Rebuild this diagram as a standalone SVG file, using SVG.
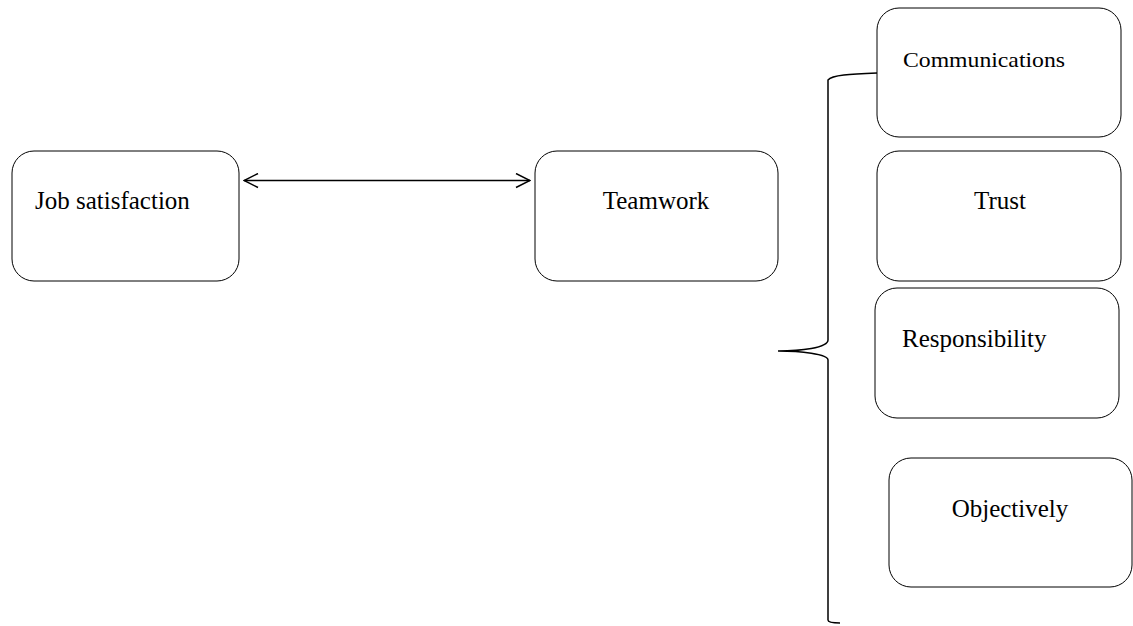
<svg xmlns="http://www.w3.org/2000/svg" width="1133" height="626" viewBox="0 0 1133 626">
<style>
.box{fill:#fff;stroke:#000;stroke-width:1}
.t{font-family:"Liberation Serif","Times New Roman",serif;font-size:25px;fill:#000}
.c{fill:none;stroke:#000;stroke-width:1.5}
</style>
<defs>
<marker id="ah" viewBox="0 0 16 16" refX="15" refY="8" markerWidth="16" markerHeight="16" markerUnits="userSpaceOnUse" orient="auto-start-reverse">
<path d="M1,1 L15,8 L1,15" fill="none" stroke="#000" stroke-width="1.5"/>
</marker>
</defs>
<rect width="1133" height="626" fill="#fff"/>
<g id="connectors">
<line class="c" x1="244" y1="180.5" x2="530" y2="180.5" marker-start="url(#ah)" marker-end="url(#ah)"/>
<path class="c" d="M877,73 C850,74 832,75 828,80 L828,340 C828,348 800,351 778,351 C800,351 828,354 828,360 L828,620 C828,622 834,623 840,623"/>
</g>
<g id="job"><rect class="box" x="12" y="151" width="227" height="130" rx="22"/><text class="t" x="35" y="209">Job satisfaction</text></g>
<g id="teamwork"><rect class="box" x="535" y="151" width="243" height="130" rx="22"/><text class="t" x="656" y="209" text-anchor="middle">Teamwork</text></g>
<g id="communications"><rect class="box" x="877" y="8" width="244" height="129" rx="22"/><text class="t" x="903" y="67" style="font-size:22px" textLength="162" lengthAdjust="spacingAndGlyphs">Communications</text></g>
<g id="trust"><rect class="box" x="877" y="151" width="244" height="130" rx="22"/><text class="t" x="1000" y="209" text-anchor="middle">Trust</text></g>
<g id="responsibility"><rect class="box" x="875" y="288" width="244" height="130" rx="22"/><text class="t" x="902" y="347">Responsibility</text></g>
<g id="objectively"><rect class="box" x="889" y="458" width="243" height="129" rx="22"/><text class="t" x="1010" y="517" text-anchor="middle">Objectively</text></g>
</svg>
